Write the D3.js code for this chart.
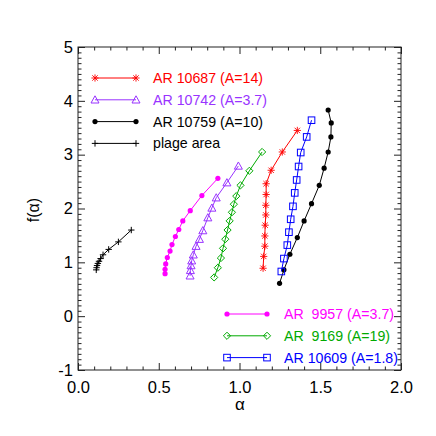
<!DOCTYPE html>
<html>
<head>
<meta charset="utf-8">
<script src="https://cdn.jsdelivr.net/npm/d3@7"></script>
<style>
  body { margin: 0; background: #fff; }
  text { font-family: "Liberation Sans", Arial, sans-serif; }
</style>
</head>
<body>
<div id="holder"></div>
<script>
const w = 436;
const h = 436;

// DATA
const plageX = [0.113, 0.115, 0.118, 0.123, 0.13, 0.14, 0.155, 0.19, 0.25, 0.33];
const plageY = [0.86, 0.90, 0.94, 0.98, 1.02, 1.07, 1.14, 1.24, 1.38, 1.60];

const ar9957X = [0.539, 0.539, 0.543, 0.553, 0.570, 0.582, 0.603, 0.624, 0.649, 0.695, 0.767, 0.866];
const ar9957Y = [0.79, 0.87, 0.97, 1.09, 1.21, 1.33, 1.48, 1.61, 1.77, 1.96, 2.24, 2.56];

const ar10742X = [0.694, 0.696, 0.700, 0.704, 0.714, 0.731, 0.752, 0.773, 0.804, 0.829, 0.856, 0.922, 0.993];
const ar10742Y = [0.75, 0.85, 0.94, 1.03, 1.14, 1.30, 1.43, 1.59, 1.83, 2.01, 2.20, 2.48, 2.79];

const ar9169X = [0.843, 0.866, 0.885, 0.898, 0.912, 0.926, 0.939, 0.953, 0.965, 0.980, 1.006, 1.061, 1.140];
const ar9169Y = [0.72, 0.90, 1.08, 1.26, 1.43, 1.60, 1.77, 1.93, 2.08, 2.23, 2.43, 2.70, 3.05];

const ar10687X = [1.146, 1.150, 1.157, 1.157, 1.159, 1.163, 1.163, 1.165, 1.165, 1.196, 1.265, 1.358];
const ar10687Y = [0.89, 1.11, 1.30, 1.49, 1.69, 1.88, 2.06, 2.26, 2.46, 2.71, 3.05, 3.45];

const ar10609X = [1.259, 1.275, 1.296, 1.306, 1.317, 1.331, 1.342, 1.354, 1.366, 1.379, 1.416, 1.446];
const ar10609Y = [0.83, 1.07, 1.32, 1.56, 1.80, 2.04, 2.29, 2.53, 2.78, 3.04, 3.33, 3.64];

const ar10759X = [1.248, 1.275, 1.312, 1.358, 1.400, 1.446, 1.494, 1.524, 1.549, 1.566, 1.568, 1.549];
const ar10759Y = [0.61, 0.86, 1.15, 1.46, 1.77, 2.09, 2.43, 2.75, 3.05, 3.33, 3.59, 3.83];

const xMajor = [0, 0.5, 1.0, 1.5, 2.0];
const yMajor = [-1, 0, 1, 2, 3, 4, 5];

// series: name, colour, marker, which legend
const series = [
    { label: "AR 10687 (A=14)", color: "#ff0000", marker: "asterisk", xs: ar10687X, ys: ar10687Y, legend: 0 },
    { label: "AR 10742 (A=3.7)", color: "#9933ff", marker: "triangle", xs: ar10742X, ys: ar10742Y, legend: 0 },
    { label: "AR 10759 (A=10)", color: "#000000", marker: "dot", xs: ar10759X, ys: ar10759Y, legend: 0 },
    { label: "plage area", color: "#000000", marker: "plus", xs: plageX, ys: plageY, legend: 0 },
    { label: "AR  9957 (A=3.7)", color: "#ff00ff", marker: "dot", xs: ar9957X, ys: ar9957Y, legend: 1 },
    { label: "AR  9169 (A=19)", color: "#00aa00", marker: "diamond", xs: ar9169X, ys: ar9169Y, legend: 1 },
    { label: "AR 10609 (A=1.8)", color: "#0000ff", marker: "square", xs: ar10609X, ys: ar10609Y, legend: 1 }
];

const pLeft = 78, pRight = 401, pTop = 47, pBottom = 370;

const svg = d3.select("#holder")
    .append("svg")
    .attr("width", w)
    .attr("height", h)

const xScale = d3.scaleLinear().domain([0, 2]).range([pLeft, pRight])
const yScale = d3.scaleLinear().domain([-1, 5]).range([pBottom, pTop])

const minorX = d3.range(0, 2.0001, 0.1).filter(v => Math.abs(v * 2 - Math.round(v * 2)) > 1e-6)
const minorY = d3.range(-1, 5.0001, 0.1).filter(v => Math.abs(v - Math.round(v)) > 1e-6)

// AXES (IDL style, ticks inward on all four sides)
function addAxis(axisFn, scale, vals, len, labels, transform, pad) {
    const a = axisFn(scale).tickValues(vals).tickSize(-len).tickPadding(pad || 3)
    if (labels) a.tickFormat(labels)
    else a.tickFormat("")
    const g = svg.append("g").attr("transform", transform).call(a)
    g.select(".domain").remove()
    g.selectAll("line").attr("stroke", "#222")
    g.selectAll("text").attr("font-size", 16.5).attr("fill", "#000")
        .attr("font-family", "'Liberation Sans', Arial, sans-serif")
    return g
}

addAxis(d3.axisBottom, xScale, xMajor, 7, d3.format(".1f"), `translate(0,${pBottom})`, 11.5)
addAxis(d3.axisBottom, xScale, minorX, 3.5, null, `translate(0,${pBottom})`)
addAxis(d3.axisTop, xScale, xMajor, 7, null, `translate(0,${pTop})`)
addAxis(d3.axisTop, xScale, minorX, 3.5, null, `translate(0,${pTop})`)
addAxis(d3.axisLeft, yScale, yMajor, 7, d => String(d), `translate(${pLeft},0)`, 5)
addAxis(d3.axisLeft, yScale, minorY, 3.5, null, `translate(${pLeft},0)`)
addAxis(d3.axisRight, yScale, yMajor, 7, null, `translate(${pRight},0)`)
addAxis(d3.axisRight, yScale, minorY, 3.5, null, `translate(${pRight},0)`)

svg.append("rect")
    .attr("x", pLeft).attr("y", pTop)
    .attr("width", pRight - pLeft).attr("height", pBottom - pTop)
    .attr("fill", "none").attr("stroke", "#222")

// AXIS TITLES
svg.append("text")
    .attr("x", (pLeft + pRight) / 2 + 0.5).attr("y", 410)
    .attr("text-anchor", "middle").attr("font-size", 17)
    .text("α")

svg.append("text")
    .attr("transform", "translate(39,210) rotate(-90)")
    .attr("text-anchor", "middle").attr("font-size", 16)
    .text("f(α)")

// MARKERS
function drawMarker(g, marker, color, cx, cy) {
    if (marker === "dot") {
        g.append("circle").attr("cx", cx).attr("cy", cy).attr("r", 2.6).attr("fill", color)
    } else if (marker === "triangle") {
        const s = 4
        g.append("path")
            .attr("d", `M${cx},${cy - s}L${cx + s},${cy + s * 0.8}L${cx - s},${cy + s * 0.8}Z`)
            .attr("fill", "none").attr("stroke", color).attr("stroke-width", 1)
    } else if (marker === "diamond") {
        const s = 3.6
        g.append("path")
            .attr("d", `M${cx},${cy - s}L${cx + s},${cy}L${cx},${cy + s}L${cx - s},${cy}Z`)
            .attr("fill", "none").attr("stroke", color).attr("stroke-width", 1)
    } else if (marker === "square") {
        const s = 3.3
        g.append("rect").attr("x", cx - s).attr("y", cy - s)
            .attr("width", 2 * s).attr("height", 2 * s)
            .attr("fill", "none").attr("stroke", color).attr("stroke-width", 1)
    } else if (marker === "asterisk") {
        const s = 3.6
        const d = s * 0.75
        g.append("path")
            .attr("d", `M${cx - s},${cy}H${cx + s}M${cx},${cy - s}V${cy + s}M${cx - d},${cy - d}L${cx + d},${cy + d}M${cx - d},${cy + d}L${cx + d},${cy - d}`)
            .attr("fill", "none").attr("stroke", color).attr("stroke-width", 0.9)
    } else if (marker === "plus") {
        const s = 3.2
        g.append("path")
            .attr("d", `M${cx - s},${cy}H${cx + s}M${cx},${cy - s}V${cy + s}`)
            .attr("fill", "none").attr("stroke", color).attr("stroke-width", 1)
    }
}

const line = d3.line().x(d => xScale(d[0])).y(d => yScale(d[1]))

series.forEach(s => {
    const pts = s.xs.map((x, i) => [x, s.ys[i]])
    const g = svg.append("g")
    g.append("path")
        .datum(pts)
        .attr("d", line)
        .attr("fill", "none")
        .attr("stroke", s.color)
        .attr("stroke-width", 1)
    pts.forEach(p => drawMarker(g, s.marker, s.color, xScale(p[0]), yScale(p[1])))
})

// LEGENDS
const legendPos = [
    { x1: 95, x2: 136, tx: 153, y0: 78, dy: 21.8 },
    { x1: 227, x2: 267, tx: 284, y0: 314, dy: 21.8 }
]
const counts = [0, 0]
series.forEach(s => {
    const L = legendPos[s.legend]
    const y = L.y0 + counts[s.legend] * L.dy
    counts[s.legend]++
    const g = svg.append("g")
    g.append("line").attr("x1", L.x1).attr("x2", L.x2).attr("y1", y).attr("y2", y)
        .attr("stroke", s.color).attr("stroke-width", 1)
    drawMarker(g, s.marker, s.color, L.x1, y)
    drawMarker(g, s.marker, s.color, L.x2, y)
    g.append("text")
        .attr("x", L.tx).attr("y", y + 5)
        .attr("font-size", 14.2)
        .attr("fill", s.color)
        .style("white-space", "pre")
        .text(s.label)
})
</script>
</body>
</html>
